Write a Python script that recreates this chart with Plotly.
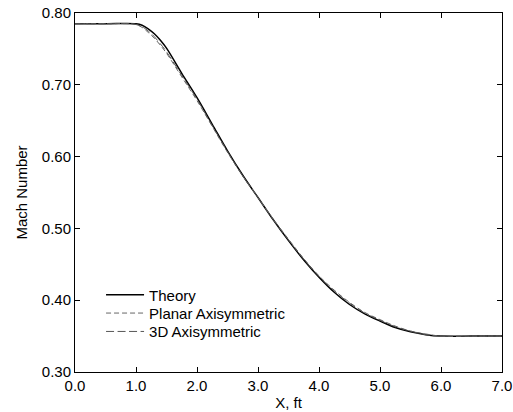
import plotly.graph_objects as go

x_theory = [0.0, 0.5, 1.0, 1.1, 1.2, 1.3, 1.4, 1.5, 1.75, 2.0, 2.25, 2.5, 2.75, 3.0, 3.25, 3.5, 3.75, 4.0, 4.25, 4.5, 4.75, 5.0, 5.25, 5.5, 5.75, 6.0, 6.5, 7.0]
m_theory = [0.785, 0.785, 0.785, 0.783, 0.778, 0.771, 0.762, 0.751, 0.716, 0.682, 0.645, 0.608, 0.574, 0.543, 0.512, 0.483, 0.456, 0.432, 0.411, 0.394, 0.381, 0.371, 0.362, 0.356, 0.352, 0.350, 0.350, 0.350]

x_planar = [0.0, 0.5, 0.9, 1.0, 1.1, 1.2, 1.3, 1.4, 1.5, 1.75, 2.0, 2.25, 2.5, 2.75, 3.0, 3.25, 3.5, 3.75, 4.0, 4.25, 4.5, 4.75, 5.0, 5.25, 5.5, 5.75, 6.0, 6.5, 7.0]
m_planar = [0.785, 0.785, 0.785, 0.784, 0.780, 0.773, 0.765, 0.755, 0.744, 0.711, 0.678, 0.642, 0.606, 0.573, 0.543, 0.513, 0.485, 0.458, 0.434, 0.414, 0.397, 0.383, 0.373, 0.364, 0.357, 0.353, 0.350, 0.350, 0.350]

x_3d = [0.0, 0.5, 0.9, 1.0, 1.1, 1.2, 1.3, 1.4, 1.5, 1.75, 2.0, 2.25, 2.5, 2.75, 3.0, 3.25, 3.5, 3.75, 4.0, 4.25, 4.5, 4.75, 5.0, 5.25, 5.5, 5.75, 6.0, 6.5, 7.0]
m_3d = [0.785, 0.785, 0.785, 0.784, 0.781, 0.775, 0.767, 0.757, 0.746, 0.713, 0.680, 0.643, 0.607, 0.573, 0.543, 0.512, 0.484, 0.457, 0.433, 0.413, 0.396, 0.382, 0.372, 0.363, 0.357, 0.352, 0.350, 0.350, 0.350]

x_ticks = [0, 1, 2, 3, 4, 5, 6, 7]
y_ticks = [0.3, 0.4, 0.5, 0.6, 0.7, 0.8]

font = "Liberation Sans, Arial, sans-serif"
FS = 15

fig = go.Figure()
fig.add_trace(go.Scatter(x=x_theory, y=m_theory, mode="lines", name="Theory", legend="legend",
                         line=dict(color="black", width=1.5, shape="spline")))
fig.add_trace(go.Scatter(x=x_planar, y=m_planar, mode="lines", name="Planar Axisymmetric", legend="legend2",
                         line=dict(color="#666666", width=1, dash="5px,3px", shape="spline")))
fig.add_trace(go.Scatter(x=x_3d, y=m_3d, mode="lines", name="3D Axisymmetric", legend="legend3",
                         line=dict(color="#555555", width=1, dash="8px,3.5px", shape="spline")))

axis_common = dict(showline=True, linecolor="black", linewidth=1, mirror="ticks",
                   ticks="inside", ticklen=5, tickcolor="black", tickwidth=1,
                   showgrid=False, zeroline=False, automargin=False,
                   ticklabeloverflow="allow",
                   tickfont=dict(family=font, size=FS, color="black"))

fig.update_xaxes(range=[0, 7], tickvals=x_ticks, tickformat=".1f",
                 title=dict(text="X, ft", font=dict(family=font, size=FS, color="black"), standoff=4),
                 **axis_common)
fig.update_yaxes(range=[0.3, 0.8], tickvals=y_ticks, tickformat=".2f",
                 title=dict(text="Mach Number", font=dict(family=font, size=FS, color="black"), standoff=10),
                 **axis_common)

leg_common = dict(xanchor="left", yanchor="middle", bgcolor="rgba(0,0,0,0)",
                  font=dict(family=font, size=FS, color="black"), borderwidth=0, itemwidth=38)

def ypaper(px):
    return (372 - px) / 359.0

fig.update_layout(
    width=513, height=412,
    margin=dict(l=75, r=11, t=13, b=40),
    paper_bgcolor="white", plot_bgcolor="white",
    font=dict(family=font, size=FS, color="black"),
    legend=dict(x=0.061, y=ypaper(295), **leg_common),
    legend2=dict(x=0.061, y=ypaper(313.3), **leg_common),
    legend3=dict(x=0.061, y=ypaper(331.7), **leg_common),
    showlegend=True,
)

fig.write_html("out.html", config={"displayModeBar": False},
               post_script="document.body.style.margin='0';document.body.style.overflow='hidden';")
